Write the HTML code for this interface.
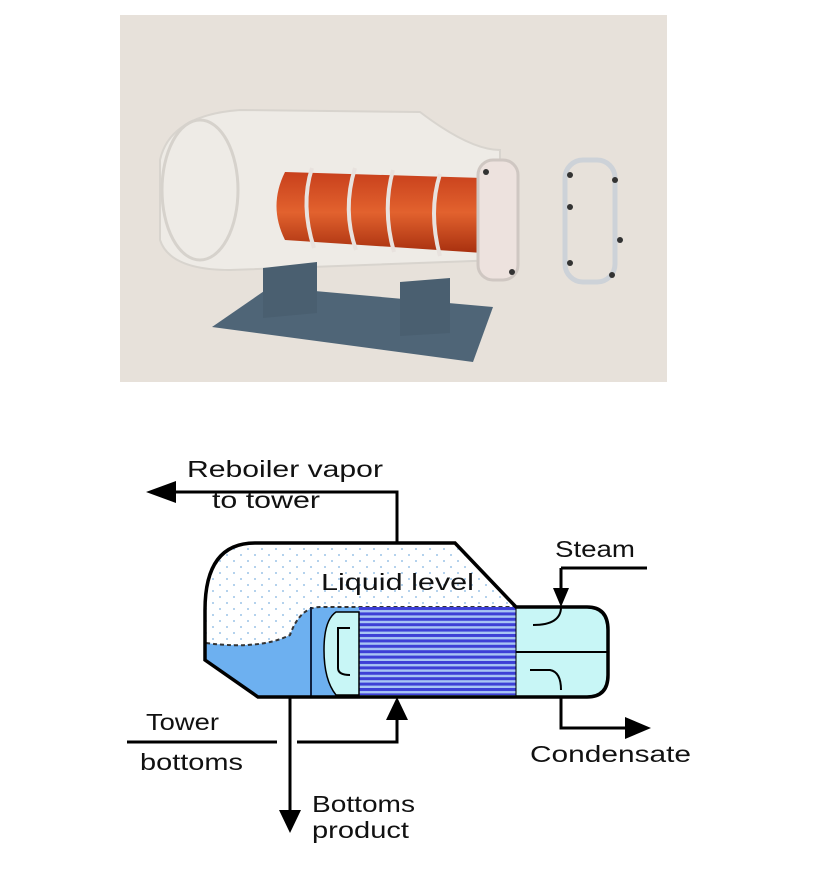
<!DOCTYPE html>
<html><head><meta charset="utf-8"><style>
html,body{margin:0;padding:0;background:#fff;width:825px;height:874px;overflow:hidden}
svg{display:block}
text{font-family:"Liberation Sans",sans-serif;fill:#111}
</style></head><body>
<svg width="825" height="874" viewBox="0 0 825 874" xmlns="http://www.w3.org/2000/svg">
<defs>
<pattern id="tubes" x="0" y="607" width="10" height="5.4" patternUnits="userSpaceOnUse">
<rect width="10" height="5.4" fill="#a8c4f4"/><rect width="10" height="3" fill="#3d3fd6"/></pattern>
<pattern id="dots" width="14" height="12" patternUnits="userSpaceOnUse">
<rect width="14" height="12" fill="#fff"/><circle cx="3" cy="3" r="1" fill="#9cc4e8"/><circle cx="10" cy="9" r="1" fill="#9cc4e8"/></pattern>
<linearGradient id="cu" x1="0" y1="0" x2="0" y2="1"><stop offset="0" stop-color="#c8401c"/><stop offset=".5" stop-color="#e2622e"/><stop offset="1" stop-color="#a8300f"/></linearGradient>
</defs>
<!-- photo -->
<rect x="120" y="15" width="547" height="367" fill="#e7e1da"/>
<path d="M160 160 Q170 115 240 110 L420 112 Q470 150 500 150 L500 260 L230 270 Q170 270 160 240 Z" fill="#eeebe6" stroke="#d8d4ce" stroke-width="2"/>
<ellipse cx="200" cy="190" rx="38" ry="70" fill="none" stroke="#d6d2cc" stroke-width="3"/>
<polygon points="212,327 270,287 493,307 473,362" fill="#4f6577"/>
<polygon points="263,268 317,262 317,313 263,318" fill="#4a5f70"/>
<polygon points="400,282 450,278 450,333 400,336" fill="#4a5f70"/>
<path d="M285 172 L483 178 L483 253 L285 240 Q268 206 285 172 Z" fill="url(#cu)"/>
<g stroke="#e8e2de" stroke-width="4" fill="none"><path d="M312 168 Q300 205 314 248"/><path d="M355 168 Q342 210 356 250"/><path d="M393 170 Q382 210 394 252"/><path d="M440 174 Q428 212 440 256"/></g>
<rect x="478" y="160" width="40" height="120" rx="15" fill="#ede2de" stroke="#cfc7c2" stroke-width="3"/>
<rect x="565" y="160" width="50" height="122" rx="18" fill="none" stroke="#cdd2d8" stroke-width="5"/>
<g fill="#333"><circle cx="570" cy="175" r="3"/><circle cx="570" cy="207" r="3"/><circle cx="570" cy="263" r="3"/><circle cx="615" cy="180" r="3"/><circle cx="620" cy="240" r="3"/><circle cx="612" cy="275" r="3"/><circle cx="486" cy="172" r="3"/><circle cx="512" cy="272" r="3"/></g>
<!-- diagram -->
<g stroke="#000" stroke-width="3" fill="none">
<path d="M176 492 H397 V543"/>
<path d="M561 568 H647"/><path d="M561 568 V592"/>
<path d="M561 697 V728 H626"/>
<path d="M127 742 H277 M297 742 H397 V720"/>
<path d="M290 697 V812"/>
</g>
<g fill="#000"><polygon points="146,492 176,481 176,503"/><polygon points="553,588 569,588 561,607"/><polygon points="651,728 625,717 625,739"/><polygon points="397,697 386,720 408,720"/><polygon points="290,833 279,810 301,810"/></g>
<!-- vessel -->
<path d="M255 543 H455 L516 607 H587 Q608 607 608 630 V675 Q608 697 587 697 H258 L205 660 V610 Q205 543 255 543 Z" fill="url(#dots)"/>
<path d="M206 643 Q260 650 290 635 Q300 607 320 607 H516 V697 H258 L206 660 Z" fill="#6db0f0"/>
<path d="M206 643 Q260 650 290 635 Q300 607 320 607 H516" fill="none" stroke="#333" stroke-width="2" stroke-dasharray="4 3"/>
<rect x="359" y="607" width="157" height="88" fill="url(#tubes)"/>
<path d="M359 612 H336 Q324 620 324 650 Q324 680 336 695 H359 Z" fill="#c8f6f6" stroke="#000" stroke-width="1.5"/>
<path d="M350 628 H338 V668 Q338 675 350 675" fill="none" stroke="#000" stroke-width="2"/>
<line x1="311" y1="607" x2="311" y2="697" stroke="#102040" stroke-width="2"/>
<path d="M516 607 H587 Q608 607 608 630 V675 Q608 697 587 697 H516 Z" fill="#c8f6f6"/>
<line x1="516" y1="652" x2="608" y2="652" stroke="#000" stroke-width="2"/>
<path d="M561 607 Q561 625 533 625" fill="none" stroke="#000" stroke-width="2"/>
<path d="M530 670 H550 Q561 672 561 690" fill="none" stroke="#000" stroke-width="2"/>
<path d="M255 543 H455 L516 607 H587 Q608 607 608 630 V675 Q608 697 587 697 H258 L205 660 V610 Q205 543 255 543 Z" fill="none" stroke="#000" stroke-width="3.5"/>
<line x1="516" y1="607" x2="516" y2="697" stroke="#000" stroke-width="1"/>
<g font-size="23">
<text x="187" y="477" textLength="196" lengthAdjust="spacingAndGlyphs">Reboiler vapor</text>
<text x="212" y="508" textLength="108" lengthAdjust="spacingAndGlyphs">to tower</text>
<text x="321" y="590" textLength="153" lengthAdjust="spacingAndGlyphs">Liquid level</text>
<text x="555" y="557" textLength="80" lengthAdjust="spacingAndGlyphs">Steam</text>
<text x="146" y="730" textLength="73" lengthAdjust="spacingAndGlyphs">Tower</text>
<text x="140" y="770" textLength="103" lengthAdjust="spacingAndGlyphs">bottoms</text>
<text x="530" y="762" textLength="161" lengthAdjust="spacingAndGlyphs">Condensate</text>
<text x="312" y="812" textLength="103" lengthAdjust="spacingAndGlyphs">Bottoms</text>
<text x="312" y="838" textLength="97" lengthAdjust="spacingAndGlyphs">product</text>
</g>
</svg>
</body></html>
